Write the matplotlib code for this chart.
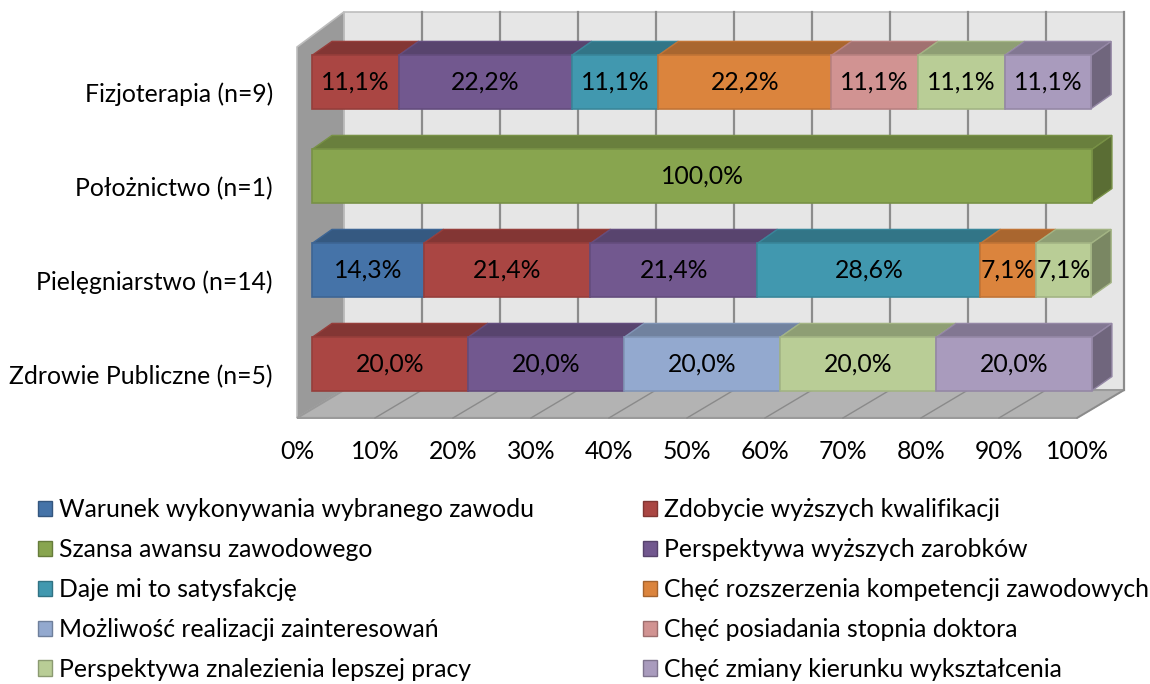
import matplotlib.pyplot as plt
from matplotlib.patches import Polygon, Patch
import numpy as np

plt.rcParams['font.family'] = ['Lato', 'DejaVu Sans']

# bottom to top
categories = ['Zdrowie Publiczne (n=5)', 'Pielęgniarstwo (n=14)',
              'Położnictwo (n=1)', 'Fizjoterapia (n=9)']

series_names = [
    'Warunek wykonywania wybranego zawodu',
    'Zdobycie wyższych kwalifikacji',
    'Szansa awansu zawodowego',
    'Perspektywa wyższych zarobków',
    'Daje mi to satysfakcję',
    'Chęć rozszerzenia kompetencji zawodowych',
    'Możliwość realizacji zainteresowań',
    'Chęć posiadania stopnia doktora',
    'Perspektywa znalezienia lepszej pracy',
    'Chęć zmiany kierunku wykształcenia',
]

warunek = [0, 14.3, 0, 0]
zdobycie = [20.0, 21.4, 0, 11.1]
szansa = [0, 0, 100.0, 0]
zarobki = [20.0, 21.4, 0, 22.2]
satysfakcja = [0, 28.6, 0, 11.1]
kompetencje = [0, 7.1, 0, 22.2]
zainteresowania = [20.0, 0, 0, 0]
doktorat = [0, 0, 0, 11.1]
praca = [20.0, 7.1, 0, 11.1]
zmiana = [20.0, 0, 0, 11.1]

x_ticks = [0, 10, 20, 30, 40, 50, 60, 70, 80, 90, 100]

colors = ['#4573A8', '#AA4643', '#88A54F', '#72588F', '#4198AF',
          '#DB843D', '#93A9CF', '#D19392', '#B9CD96', '#A99BBD']

values = np.array([warunek, zdobycie, szansa, zarobki, satysfakcja,
                   kompetencje, zainteresowania, doktorat, praca, zmiana])

FS = 17.8


def shade(c, k):
    r, g, b = plt.matplotlib.colors.to_rgb(c)
    return (r * k, g * k, b * k)


fig = plt.figure(figsize=(11.5, 6.84), dpi=100)
ax = fig.add_axes([0, 0, 1, 1])
ax.set_xlim(-40, 107.44)
ax.set_ylim(-3.404, 3.872)
ax.axis('off')

# oblique 3D geometry (x in %, y in category units)
bar_h = 0.565
bdx, bdy = 2.56, 0.149          # bar depth
fx, fy = -1.92, -0.574          # floor front left corner
wdx, wdy = 6.02, 0.297          # wall depth
top = 3.745
wall_c = '#8c8c8c'

# back wall
ax.add_patch(Polygon([(fx + wdx, fy + wdy), (fx + wdx + 100, fy + wdy),
                      (fx + wdx + 100, top), (fx + wdx, top)],
                     facecolor='#e6e6e6', edgecolor='#bdbdbd', lw=1.2))
# left wall
ax.add_patch(Polygon([(fx, fy), (fx + wdx, fy + wdy), (fx + wdx, top),
                      (fx, top - 0.373)],
                     facecolor='#9a9a9a', edgecolor='#bdbdbd', lw=1.2))
# floor
ax.add_patch(Polygon([(fx, fy), (fx + 100, fy), (fx + wdx + 100, fy + wdy),
                      (fx + wdx, fy + wdy)],
                     facecolor='#b3b3b3', edgecolor='#9a9a9a', lw=1.5))

for t in x_ticks[1:]:
    ax.plot([fx + wdx + t] * 2, [fy + wdy, top], color=wall_c, lw=1.6, zorder=2)
    ax.plot([fx + t, fx + wdx + t], [fy, fy + wdy], color='#8a8a8a', lw=1.0, zorder=2)

# stacked 3D bars
for i, cat in enumerate(categories):
    left = 0.0
    y0 = i - bar_h / 2
    y1 = i + bar_h / 2
    for s in range(len(series_names)):
        w = values[s, i]
        if w <= 0:
            continue
        c = colors[s]
        edge = shade(c, 0.88)
        right = left + w
        ax.add_patch(Polygon([(left, y1), (right, y1), (right + bdx, y1 + bdy),
                              (left + bdx, y1 + bdy)],
                             facecolor=shade(c, 0.77), edgecolor=edge, lw=1, zorder=3))
        ax.add_patch(Polygon([(right, y0), (right + bdx, y0 + bdy),
                              (right + bdx, y1 + bdy), (right, y1)],
                             facecolor=shade(c, 0.66), edgecolor=edge, lw=1, zorder=3))
        ax.add_patch(Polygon([(left, y0), (right, y0), (right, y1), (left, y1)],
                             facecolor=c, edgecolor=edge, lw=1.2, zorder=4))
        ax.text(left + w / 2, i, f'{w:.1f}%'.replace('.', ','),
                ha='center', va='center', fontsize=FS, color='black', zorder=5)
        left = right
    ax.text(-5.0, i - 0.135, cat, ha='right', va='center', fontsize=FS)

for t in x_ticks:
    ax.text(fx + t, -0.936, f'{t}%', ha='center', va='center', fontsize=FS)

# legend in two columns
handles = [Patch(facecolor=c, edgecolor=shade(c, 0.75), lw=1) for c in colors]
for col, xpx in ((0, 38), (1, 643)):
    idx = list(range(col, len(series_names), 2))
    fig.legend([handles[k] for k in idx], [series_names[k] for k in idx],
               loc='upper left', bbox_to_anchor=(xpx / 1150, 1 - 498 / 684),
               frameon=False, fontsize=FS, handlelength=0.56, handleheight=0.56,
               handletextpad=0.3, labelspacing=0.685, borderpad=0, borderaxespad=0)

fig.savefig('out.png', dpi=100)
